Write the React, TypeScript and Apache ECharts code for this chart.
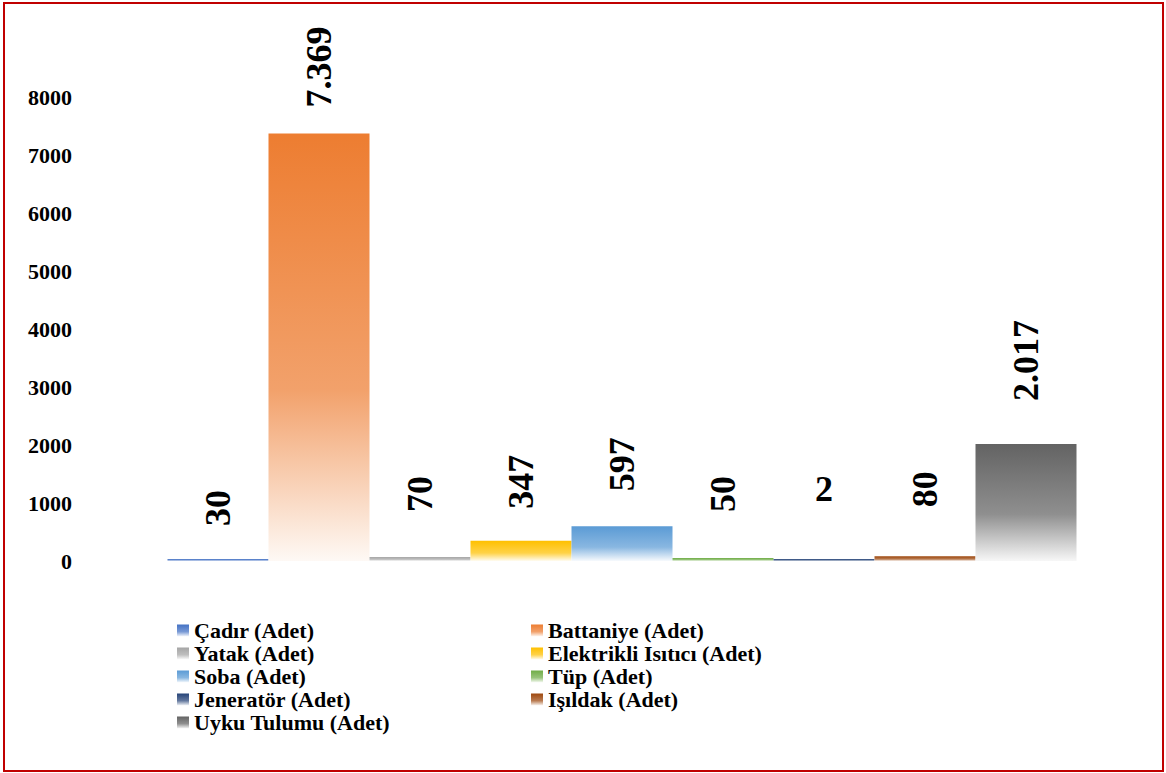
import React, { useEffect, useRef } from "react";
import * as echarts from "echarts";

const categories = [""];
const seriesNames = [
  "Çadır (Adet)",
  "Battaniye (Adet)",
  "Yatak (Adet)",
  "Elektrikli Isıtıcı (Adet)",
  "Soba (Adet)",
  "Tüp (Adet)",
  "Jeneratör (Adet)",
  "Işıldak (Adet)",
  "Uyku Tulumu (Adet)",
];
const values = [30, 7369, 70, 347, 597, 50, 2, 80, 2017];
const colors = ["#4472C4", "#ED7D31", "#A5A5A5", "#FFC000", "#5B9BD5", "#70AD47", "#264478", "#9E480E", "#636363"];
const labelGaps = [33, 26, 45, 32, 35, 46, 52, 49, 43];
const labelRotations = [90, 90, 90, 90, 90, 90, 0, 90, 90];
const yMin = 0;
const yMax = 8000;
const yInterval = 1000;

function mix(hex: string, t: number): string {
  const n = parseInt(hex.slice(1), 16);
  const r = (n >> 16) & 255, g = (n >> 8) & 255, b = n & 255;
  const f = (c: number) => Math.round(c + (255 - c) * t);
  return `rgb(${f(r)},${f(g)},${f(b)})`;
}

function fmt(v: number): string {
  return String(v).replace(/\B(?=(\d{3})+(?!\d))/g, ".");
}

export default function App() {
  const ref = useRef<HTMLDivElement>(null);
  useEffect(() => {
    if (!ref.current) return;
    const chart = echarts.init(ref.current, undefined, { renderer: "svg" });
    const font = "'Liberation Serif', 'Times New Roman', serif";
    const series = seriesNames.map((name, i) => ({
      name,
      type: "bar",
      data: [values[i]],
      barGap: "0%",
      barCategoryGap: "10%",
      barMinHeight: 2,
      itemStyle: {
        color: new echarts.graphic.LinearGradient(0, 0, 0, 1, [
          { offset: 0, color: colors[i] },
          { offset: 0.6, color: mix(colors[i], 0.28) },
          { offset: 1, color: mix(colors[i], 0.95) },
        ]),
      },
      label: {
        show: true,
        position: "top",
        distance: labelGaps[i],
        rotate: labelRotations[i],
        align: labelRotations[i] === 90 ? "left" : "center",
        verticalAlign: labelRotations[i] === 90 ? "middle" : "bottom",
        fontFamily: font,
        fontWeight: "bold",
        fontSize: 36,
        color: "#000",
        formatter: (p: any) => fmt(p.value),
      },
    }));
    const legendText = { fontFamily: font, fontWeight: "bold", fontSize: 22, color: "#000", lineHeight: 23 };
    const legendBase = {
      orient: "vertical",
      top: 619,
      padding: 0,
      itemWidth: 12,
      itemHeight: 12,
      itemGap: 0,
      icon: "rect",
      selectedMode: false,
      textStyle: legendText,
    };
    chart.setOption({
      animation: false,
      backgroundColor: "#fff",
      grid: { left: 117, right: 39, top: 97, bottom: 212 },
      xAxis: {
        type: "category",
        data: categories,
        axisLine: { show: false },
        axisTick: { show: false },
        axisLabel: { show: false },
      },
      yAxis: {
        type: "value",
        min: yMin,
        max: yMax,
        interval: yInterval,
        splitLine: { show: false },
        axisLine: { show: false },
        axisTick: { show: false },
        axisLabel: {
          margin: 45,
          fontFamily: font,
          fontWeight: "bold",
          fontSize: 22,
          color: "#000",
          formatter: (v: number) => String(v),
        },
      },
      legend: [
        { ...legendBase, left: 177, data: seriesNames.filter((_, i) => i % 2 === 0) },
        { ...legendBase, left: 531, data: seriesNames.filter((_, i) => i % 2 === 1) },
      ],
      graphic: [
        {
          type: "rect",
          shape: { x: 4, y: 3, width: 1159, height: 768 },
          style: { fill: "none", stroke: "#C00000", lineWidth: 2 },
          silent: true,
        },
      ],
      series,
    });
    return () => chart.dispose();
  }, []);
  return <div ref={ref} style={{ position: "fixed", left: 0, top: 0, width: 1166, height: 773 }} />;
}
